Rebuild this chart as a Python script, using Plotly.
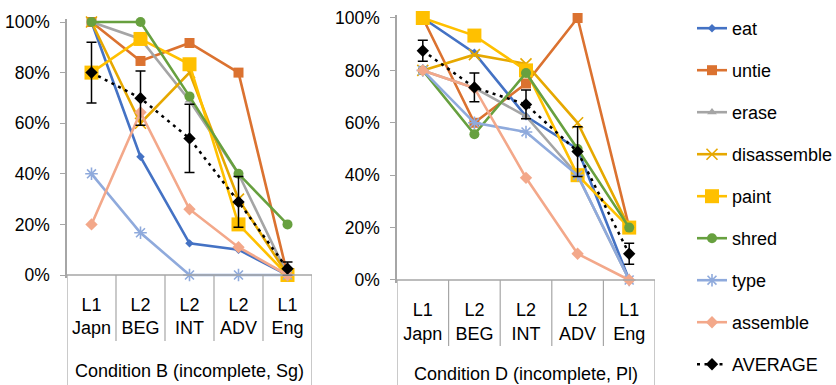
import plotly.graph_objects as go

# ---------------- data ----------------
categories = ["L1<br>Japn", "L2<br>BEG", "L2<br>INT", "L2<br>ADV", "L1<br>Eng"]
series_names = ["eat", "untie", "erase", "disassemble", "paint", "shred", "type", "assemble"]
group_labels = ["Condition B (incomplete, Sg)", "Condition D (incomplete, Pl)"]

eat_B = [1.00, 0.467, 0.125, 0.10, 0.00]
untie_B = [1.00, 0.846, 0.917, 0.80, 0.00]
erase_B = [1.00, 0.933, 0.69, 0.40, 0.00]
disassemble_B = [1.00, 0.60, 0.80, 0.30, 0.00]
paint_B = [0.80, 0.933, 0.833, 0.20, 0.00]
shred_B = [1.00, 1.00, 0.706, 0.40, 0.20]
type_B = [0.40, 0.167, 0.00, 0.00, 0.00]
assemble_B = [0.20, 0.643, 0.26, 0.11, 0.00]
average_B = [0.80, 0.699, 0.54, 0.289, 0.025]
error_B = [0.12, 0.107, 0.135, 0.10, 0.026]

eat_D = [1.00, 0.867, 0.625, 0.50, 0.00]
untie_D = [1.00, 0.60, 0.75, 1.00, 0.20]
erase_D = [0.80, 0.733, 0.625, 0.40, 0.00]
disassemble_D = [0.80, 0.86, 0.825, 0.60, 0.20]
paint_D = [1.00, 0.933, 0.80, 0.40, 0.20]
shred_D = [0.80, 0.556, 0.79, 0.50, 0.20]
type_D = [0.80, 0.60, 0.565, 0.40, 0.00]
assemble_D = [0.80, 0.733, 0.39, 0.10, 0.00]
average_D = [0.875, 0.735, 0.67, 0.49, 0.10]
error_D = [0.04, 0.055, 0.055, 0.095, 0.04]

y_ticks = [0, 0.2, 0.4, 0.6, 0.8, 1.0]

# ---------------- styles ----------------
W, H = 836, 385
FONT = "Liberation Sans, Arial, sans-serif"
AXC = "#a6a6a6"
styles = {
    "eat": dict(color="#4472C4", symbol="diamond", size=6.5),
    "untie": dict(color="#DB7230", symbol="square", size=10),
    "erase": dict(color="#A5A5A5", symbol="triangle-up", size=8.5),
    "disassemble": dict(color="#E6A800", symbol="x-thin", size=11),
    "paint": dict(color="#FFC000", symbol="square", size=14),
    "shred": dict(color="#67A03F", symbol="circle", size=10),
    "type": dict(color="#8FAADC", symbol="asterisk", size=10.5),
    "assemble": dict(color="#F3A88A", symbol="diamond", size=9.5),
}

data_B = [eat_B, untie_B, erase_B, disassemble_B, paint_B, shred_B, type_B, assemble_B]
data_D = [eat_D, untie_D, erase_D, disassemble_D, paint_D, shred_D, type_D, assemble_D]
xs = list(range(len(categories)))

fig = go.Figure()


def add_panel(values, avg, err, xa, ya, show):
    for name, vals in zip(series_names, values):
        st = styles[name]
        line_only = st["symbol"] in ("x-thin", "asterisk")
        marker = dict(symbol=st["symbol"], size=st["size"], color=st["color"],
                      line=dict(width=1.6 if line_only else 0, color=st["color"]))
        fig.add_trace(go.Scatter(
            x=xs, y=vals, name=name, mode="lines+markers",
            line=dict(color=st["color"], width=2.6), marker=marker,
            xaxis=xa, yaxis=ya, showlegend=show, legendgroup=name,
            cliponaxis=False))
    fig.add_trace(go.Scatter(
        x=xs, y=avg, name="AVERAGE", mode="lines+markers",
        line=dict(color="black", width=2.5, dash="3px,4.5px"),
        marker=dict(symbol="diamond", size=9.5, color="black"),
        error_y=dict(type="data", array=err, visible=True, color="black",
                     thickness=1.5, width=5),
        xaxis=xa, yaxis=ya, showlegend=show, legendgroup="AVERAGE",
        cliponaxis=False))


add_panel(data_B, average_B, error_B, "x", "y", True)
add_panel(data_D, average_D, error_D, "x2", "y2", False)

# geometry (pixels)
panels = [
    dict(x0=67, x1=312, y0=275, y100=22, xa="x", ya="y", lab=96),
    dict(x0=397, x1=655, y0=280, y100=18, xa="x2", ya="y2", lab=94),
]
pad = 0.012

layout_axes = {}
shapes = []
annotations = []
for i, p in enumerate(panels):
    ppu = p["y0"] - p["y100"]
    bottom_px = p["y0"] + pad * ppu
    top_px = p["y100"] - pad * ppu
    xkey = "xaxis" if i == 0 else "xaxis2"
    ykey = "yaxis" if i == 0 else "yaxis2"
    layout_axes[xkey] = dict(
        domain=[p["x0"] / W, p["x1"] / W], range=[-0.5, len(categories) - 0.5],
        tickvals=xs, ticktext=categories, showgrid=False, zeroline=False,
        showline=False, ticks="", anchor=p["ya"], ticklabelstandoff=14,
        tickfont=dict(family=FONT, size=18, color="black"), fixedrange=True,
        automargin=False)
    layout_axes[ykey] = dict(
        domain=[(H - bottom_px) / H, (H - top_px) / H], range=[-pad, 1 + pad],
        tickvals=y_ticks, tickformat=".0%", showgrid=False, zeroline=False,
        showline=True, linecolor=AXC, linewidth=1.5, ticks="outside",
        ticklen=5, tickcolor=AXC, tickwidth=1.2, anchor=p["xa"],
        ticklabelstandoff=7, automargin=False,
        tickfont=dict(family=FONT, size=17.5, color="black"), fixedrange=True)
    # x axis line at 0%
    shapes.append(dict(type="line", xref=p["xa"] + " domain", yref=p["ya"],
                       x0=0, x1=1, y0=0, y1=0, line=dict(color=AXC, width=1.5)))
    # category separators
    sep_bottom = (H - (p["y0"] + 66)) / H
    for k in range(len(categories) + 1):
        xv = k - 0.5
        yb = 0 if k in (0, len(categories)) else sep_bottom
        shapes.append(dict(type="line", xref=p["xa"], yref="paper",
                           x0=xv, x1=xv, y0=yb, y1=(H - p["y0"]) / H,
                           line=dict(color=AXC, width=1.2)))
    annotations.append(dict(text=group_labels[i], xref=p["xa"] + " domain", x=0.5,
                            yref="paper", y=(H - (p["y0"] + p["lab"])) / H,
                            xanchor="center", yanchor="middle", showarrow=False,
                            font=dict(family=FONT, size=18, color="black")))

fig.update_layout(
    width=W, height=H, margin=dict(l=0, r=0, t=0, b=0, autoexpand=False),
    paper_bgcolor="white", plot_bgcolor="white",
    shapes=shapes, annotations=annotations,
    legend=dict(x=692 / W, y=1 - 10 / H, xanchor="left", yanchor="top",
                font=dict(family=FONT, size=18, color="black"),
                tracegroupgap=15.6, bgcolor="rgba(0,0,0,0)"),
    **layout_axes,
)

fig.write_html(
    "out.html",
    config={"displayModeBar": False, "staticPlot": False},
    post_script="document.body.style.margin='0';document.body.style.overflow='hidden';",
)
